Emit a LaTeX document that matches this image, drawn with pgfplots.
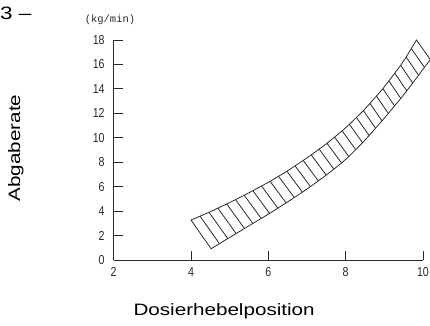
\documentclass[border=0pt]{standalone}
\usepackage{fontspec}
\setmainfont{Liberation Sans}
\newfontfamily\labelfont[FakeStretch=1.25]{Liberation Sans}
\newfontfamily\tickfont[FakeStretch=0.82]{Liberation Sans}
\newfontfamily\unitfont{Liberation Mono}
\usepackage{pgfplots}
\pgfplotsset{compat=1.18}
\definecolor{ink}{HTML}{2A2A2A}
\begin{document}
\begin{tikzpicture}
\path[use as bounding box] (-113.7bp,-66bp) rectangle (316.3bp,260bp);
\begin{axis}[
  scale only axis,
  width=309.3bp, height=220bp,
  xmin=2, xmax=10, ymin=0, ymax=18,
  axis x line=bottom, axis y line=left,
  axis line style={-, draw=ink, line width=0.8bp},
  clip=false,
  xtick={2,4,6,8,10},
  ytick={0,2,4,6,8,10,12,14,16,18},
  tick align=inside,
  major tick length=9bp,
  tick style={draw=ink, line width=0.8bp},
  /pgf/number format/assume math mode=true,
  tick label style={font=\tickfont\fontsize{13bp}{14bp}\selectfont, text=ink},
  yticklabel style={xshift=-5.5bp},
  xticklabel style={yshift=-4bp},
  unbounded coords=jump,
]
% band outline
\addplot[draw=ink, line width=0.8bp, mark=none] table {
x y
4.000 3.270
4.233 3.587
4.466 3.903
4.695 4.242
4.923 4.585
5.150 4.940
5.376 5.300
5.600 5.671
5.824 6.050
6.046 6.436
6.263 6.850
6.480 7.262
6.692 7.702
6.902 8.145
7.110 8.602
7.314 9.072
7.518 9.547
7.713 10.055
7.909 10.563
8.097 11.100
8.278 11.662
8.459 12.223
8.629 12.815
8.796 13.415
8.963 14.017
9.118 14.648
9.270 15.286
9.423 15.927
9.565 16.597
9.698 17.298
9.830 18.000
10.190 16.400
10.038 15.760
9.886 15.121
9.734 14.483
9.582 13.844
9.426 13.219
9.264 12.605
9.103 11.991
8.940 11.382
8.773 10.783
8.607 10.185
8.437 9.597
8.259 9.029
8.082 8.462
7.893 7.934
7.695 7.438
7.497 6.942
7.293 6.473
7.089 6.004
6.881 5.550
6.671 5.109
6.460 4.670
6.246 4.242
6.032 3.814
5.816 3.400
5.599 2.989
5.382 2.577
5.166 2.165
4.950 1.752
4.735 1.336
4.520 0.920
4.000 3.270
};
% hatching
\addplot[draw=ink, line width=0.8bp, mark=none] table {
x y
4.233 3.587
4.735 1.336
nan nan
4.466 3.903
4.950 1.752
nan nan
4.695 4.242
5.166 2.165
nan nan
4.923 4.585
5.382 2.577
nan nan
5.150 4.940
5.599 2.989
nan nan
5.376 5.300
5.816 3.400
nan nan
5.600 5.671
6.032 3.814
nan nan
5.824 6.050
6.246 4.242
nan nan
6.046 6.436
6.460 4.670
nan nan
6.263 6.850
6.671 5.109
nan nan
6.480 7.262
6.881 5.550
nan nan
6.692 7.702
7.089 6.004
nan nan
6.902 8.145
7.293 6.473
nan nan
7.110 8.602
7.497 6.942
nan nan
7.314 9.072
7.695 7.438
nan nan
7.518 9.547
7.893 7.934
nan nan
7.713 10.055
8.082 8.462
nan nan
7.909 10.563
8.259 9.029
nan nan
8.097 11.100
8.437 9.597
nan nan
8.278 11.662
8.607 10.185
nan nan
8.459 12.223
8.773 10.783
nan nan
8.629 12.815
8.940 11.382
nan nan
8.796 13.415
9.103 11.991
nan nan
8.963 14.017
9.264 12.605
nan nan
9.118 14.648
9.426 13.219
nan nan
9.270 15.286
9.582 13.844
nan nan
9.423 15.927
9.734 14.483
nan nan
9.565 16.597
9.886 15.121
nan nan
9.698 17.298
10.038 15.760
};
\node[font=\unitfont\fontsize{10.5bp}{11bp}\selectfont, text=ink] at (axis description cs:-0.012,1.091) {(kg/min)};
\node[font=\labelfont\fontsize{16.5bp}{18bp}\selectfont, text=black] at (axis description cs:0.357,-0.232) {Dosierhebelposition};
\node[font=\labelfont\fontsize{16.5bp}{18bp}\selectfont, text=black, rotate=90] at (axis description cs:-0.316,0.509) {Abgaberate};
\node[font=\labelfont\fontsize{18bp}{20bp}\selectfont, text=black, anchor=west, inner sep=0pt] at (axis description cs:-0.3676,1.1205) {3 –};
\end{axis}
\end{tikzpicture}
\end{document}
